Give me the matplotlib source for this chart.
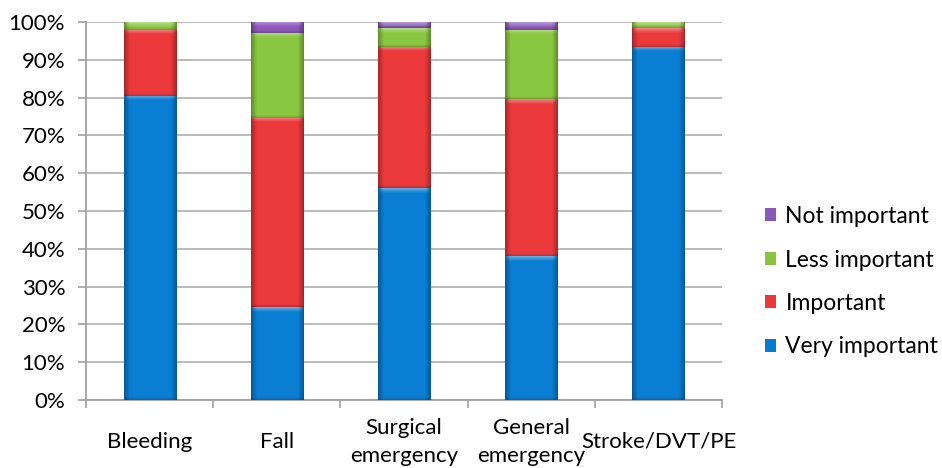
import numpy as np
import matplotlib.pyplot as plt
from matplotlib.patches import Patch
from matplotlib.colors import to_rgb

categories = ['Bleeding', 'Fall', 'Surgical\nemergency', 'General\nemergency', 'Stroke/DVT/PE']
very_important = [80.5, 24.5, 56.0, 38.0, 93.5]
important = [17.5, 50.0, 37.5, 41.5, 5.0]
less_important = [2.0, 22.5, 5.0, 18.5, 1.5]
not_important = [0.0, 3.0, 1.5, 2.0, 0.0]

series = [
    ('Very important', very_important, '#0a7ccf'),
    ('Important', important, '#e8383a'),
    ('Less important', less_important, '#88c440'),
    ('Not important', not_important, '#8a58b8'),
]

plt.rcParams['font.family'] = ['Lato', 'DejaVu Sans']

fig = plt.figure(figsize=(9.42, 4.68), dpi=100)
ax = fig.add_axes([0.0913, 0.1453, 0.6752, 0.8077])

x = np.arange(len(categories))
width = 0.41
px_per_unit_y = 378 / 100.0
px_per_unit_x = 636 / 5.0


def shaded_image(color, h_px, w_px):
    # cylinder-like shading: dark edges, bright top bevel, darker bottom lip
    base = np.array(to_rgb(color))
    ny = max(int(round(h_px)), 2)
    nx = max(int(round(w_px)), 2)
    t = (np.arange(nx) + 0.5) / nx
    edge = np.minimum(t, 1 - t) * w_px          # px from side edge
    yy = (np.arange(ny) + 0.5)                  # px from top
    yb = ny - yy                                # px from bottom
    fx = 0.70 + 0.32 * np.clip(edge / 6.0, 0, 1)
    img = np.ones((ny, nx, 3)) * base
    img = img * fx[None, :, None]
    top = np.clip(1 - yy / 5.0, 0, 1)[:, None] * np.clip(edge / 5.0, 0, 1)[None, :]
    img = img + (1 - img) * (0.4 * top)[:, :, None]
    bot = np.clip(1 - yb / 3.0, 0, 1)[:, None]
    img = img * (1 - 0.2 * bot)[:, :, None]
    return np.clip(img, 0, 1)


bottom = np.zeros(len(categories))
for name, vals, color in series:
    bars = ax.bar(x, vals, width, bottom=bottom, color=color, label=name,
                  linewidth=0, zorder=2)
    for b in bars:
        h = b.get_height()
        if h <= 0:
            continue
        x0, y0, w = b.get_x(), b.get_y(), b.get_width()
        img = shaded_image(color, h * px_per_unit_y, w * px_per_unit_x)
        ax.imshow(img, extent=[x0, x0 + w, y0, y0 + h], aspect='auto',
                  interpolation='bilinear', zorder=3)
    bottom += np.array(vals)

ax.set_xlim(-0.5, len(categories) - 0.5)
ax.set_ylim(0, 100)

ax.set_yticks(np.arange(0, 101, 10))
ax.set_yticklabels([f'{v}%' for v in range(0, 101, 10)])
ax.yaxis.grid(True, color='#b4b4b4', linewidth=1.3, zorder=0)
ax.set_axisbelow(True)

ax.set_xticks(np.arange(-0.5, len(categories), 1.0))
ax.set_xticklabels([])
ax.set_xticks(x, minor=True)
ax.set_xticklabels(categories, minor=True, fontsize=16, linespacing=1.5)
ax.tick_params(axis='x', which='minor', length=0, pad=30)
for lbl in ax.get_xticklabels(minor=True):
    lbl.set_verticalalignment('center')
ax.tick_params(axis='x', which='major', length=6, color='#a0a0a0', width=1.2)
ax.tick_params(axis='y', length=6, color='#a0a0a0', width=1.2, pad=9, labelsize=16)

for side in ['top', 'right']:
    ax.spines[side].set_visible(False)
for side in ['left', 'bottom']:
    ax.spines[side].set_color('#a0a0a0')
    ax.spines[side].set_linewidth(1.3)

handles = [Patch(facecolor=c, label=n) for n, _, c in series][::-1]
fig.legend(handles=handles, loc='center left', bbox_to_anchor=(0.79, 0.398),
           frameon=False, fontsize=16.5, handlelength=0.5, handleheight=0.5,
           handletextpad=0.4, labelspacing=0.98)

fig.savefig('out.png', dpi=100)
